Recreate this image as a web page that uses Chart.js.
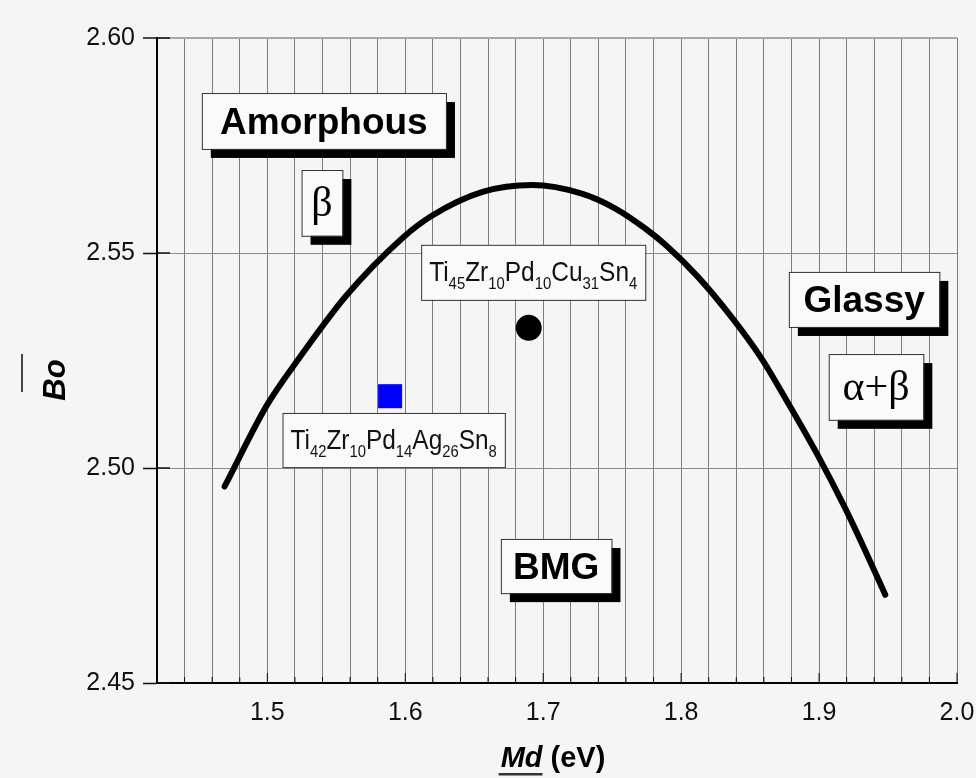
<!DOCTYPE html>
<html>
<head>
<meta charset="utf-8">
<script src="https://cdn.jsdelivr.net/npm/chart.js@4.4.0/dist/chart.umd.min.js"></script>
<style>
  html, body { margin: 0; padding: 0; background: #f5f5f5; }
  #c { display: block; }
</style>
</head>
<body>
<canvas id="c" width="976" height="778"></canvas>
<script>
// curve (Md in eV, mean bond order)
const curveMd = [1.469, 1.4995, 1.523, 1.557, 1.598, 1.619, 1.656, 1.692, 1.728, 1.752,
                 1.774, 1.789, 1.812, 1.836, 1.858, 1.875, 1.899, 1.919, 1.933, 1.948];
const curveBo = [2.4957, 2.5145, 2.5255, 2.5400, 2.5535, 2.5586, 2.5642, 2.5658, 2.5638, 2.5604,
                 2.5557, 2.5518, 2.5445, 2.5353, 2.5256, 2.5165, 2.5030, 2.4906, 2.4811, 2.4705];

// the two alloys
const alloyNames = ['Ti45Zr10Pd10Cu31Sn4', 'Ti42Zr10Pd14Ag26Sn8'];
const alloyMd = [1.6895, 1.589];
const alloyBo = [2.5326, 2.5167];

// axis ticks
const xTicks = [1.42, 1.44, 1.46, 1.48, 1.50, 1.52, 1.54, 1.56, 1.58, 1.60,
                1.62, 1.64, 1.66, 1.68, 1.70, 1.72, 1.74, 1.76, 1.78, 1.80,
                1.82, 1.84, 1.86, 1.88, 1.90, 1.92, 1.94, 1.96, 1.98, 2.00];
const yTicks = [2.45, 2.50, 2.55, 2.60];

// text boxes on the plot (corners in data units)
const notes = [
  { text: 'Amorphous', kind: 'bold', x0: 1.4525, x1: 1.6295, y0: 2.5872, y1: 2.5742, shadow: true },
  { text: 'β', kind: 'serif', x0: 1.5248, x1: 1.5544, y0: 2.5693, y1: 2.5540, shadow: true },
  { text: alloyNames[0], kind: 'chem', x0: 1.6115, x1: 1.7740, y0: 2.5519, y1: 2.5391, shadow: false },
  { text: alloyNames[1], kind: 'chem', x0: 1.5110, x1: 1.6722, y0: 2.5128, y1: 2.5002, shadow: false },
  { text: 'Glassy', kind: 'bold', x0: 1.8781, x1: 1.9872, y0: 2.5456, y1: 2.5328, shadow: true },
  { text: 'α+β', kind: 'serif', x0: 1.9070, x1: 1.9756, y0: 2.5265, y1: 2.5112, shadow: true },
  { text: 'BMG', kind: 'bold', x0: 1.6693, x1: 1.7495, y0: 2.4835, y1: 2.4709, shadow: true }
];

const SANS = "'Liberation Sans', Arial, sans-serif";
const SERIF = "'Liberation Serif', 'Times New Roman', serif";

function drawChem(ctx, formula, cx, cy, maxW) {
  const parts = [];
  formula.replace(/([A-Za-z]+)(\d*)/g, (m, el, num) => { parts.push([el, false]); if (num) parts.push([num, true]); });
  const big = '28px ' + SANS, small = '17px ' + SANS;
  let w = 0;
  parts.forEach(p => { ctx.font = p[1] ? small : big; w += ctx.measureText(p[0]).width; });
  const k = Math.min(1, maxW / w);
  ctx.save();
  ctx.translate(cx - w * k / 2, cy + 9);
  ctx.scale(k, 1);
  ctx.fillStyle = '#111';
  ctx.textBaseline = 'alphabetic';
  ctx.textAlign = 'left';
  let x = 0;
  parts.forEach(p => {
    ctx.font = p[1] ? small : big;
    ctx.fillText(p[0], x, p[1] ? 8 : 0);
    x += ctx.measureText(p[0]).width;
  });
  ctx.restore();
}

const decor = {
  id: 'decor',
  beforeDraw(chart) {
    const ctx = chart.ctx;
    ctx.save();
    ctx.fillStyle = '#f5f5f5';
    ctx.fillRect(0, 0, chart.width, chart.height);
    ctx.restore();
  },
  afterDatasetsDraw(chart) {
    const ctx = chart.ctx, xs = chart.scales.x, ys = chart.scales.y, a = chart.chartArea;
    ctx.save();
    // inner tick marks
    ctx.strokeStyle = '#111';
    ctx.lineWidth = 1.5;
    yTicks.forEach(v => {
      const y = ys.getPixelForValue(v);
      ctx.beginPath(); ctx.moveTo(a.left, y); ctx.lineTo(a.left + 13, y); ctx.stroke();
    });
    ctx.lineWidth = 1;
    xTicks.forEach((v, i) => {
      const x = xs.getPixelForValue(v);
      const len = (i % 5 === 4) ? 10 : 6;
      ctx.beginPath(); ctx.moveTo(x, a.bottom); ctx.lineTo(x, a.bottom - len); ctx.stroke();
    });

    // text boxes
    notes.forEach(n => {
      const l = xs.getPixelForValue(n.x0), r = xs.getPixelForValue(n.x1);
      const t = ys.getPixelForValue(n.y0), b = ys.getPixelForValue(n.y1);
      if (n.shadow) {
        ctx.fillStyle = '#000';
        ctx.fillRect(l + 9, t + 9, r - l, b - t);
      }
      ctx.fillStyle = '#fafafa';
      ctx.fillRect(l, t, r - l, b - t);
      ctx.strokeStyle = '#333';
      ctx.lineWidth = 1;
      ctx.strokeRect(l + 0.5, t + 0.5, r - l, b - t);
      const cx = (l + r) / 2, cy = (t + b) / 2;
      ctx.fillStyle = '#000';
      ctx.textAlign = 'center';
      if (n.kind === 'bold') {
        ctx.font = 'bold 37px ' + SANS;
        ctx.textBaseline = 'alphabetic';
        ctx.fillText(n.text, cx, cy + 13);
      } else if (n.kind === 'serif') {
        ctx.font = '42px ' + SERIF;
        ctx.textBaseline = 'middle';
        ctx.fillText(n.text, cx, cy + 2);
      } else {
        drawChem(ctx, n.text, cx, cy, r - l - 16);
      }
    });

    // axis titles
    ctx.fillStyle = '#000';
    ctx.textBaseline = 'alphabetic';
    ctx.textAlign = 'left';
    ctx.font = 'italic bold 29px ' + SANS;
    const wMd = ctx.measureText('Md').width;
    ctx.font = 'bold 29px ' + SANS;
    const wEv = ctx.measureText(' (eV)').width;
    const tx = 553 - (wMd + wEv) / 2, ty = 767;
    ctx.font = 'italic bold 29px ' + SANS;
    ctx.fillText('Md', tx, ty);
    ctx.font = 'bold 29px ' + SANS;
    ctx.fillText(' (eV)', tx + wMd, ty);
    ctx.fillStyle = '#333';
    ctx.fillRect(tx - 2, ty + 6, wMd + 2, 2.5);

    ctx.translate(65, 380);
    ctx.rotate(-Math.PI / 2);
    ctx.font = 'italic bold 31px ' + SANS;
    ctx.textAlign = 'center';
    ctx.fillStyle = '#000';
    ctx.fillText('Bo', 0, 0);
    ctx.fillStyle = '#444';
    ctx.fillRect(-12, -44, 38, 2);
    ctx.restore();
  }
};

new Chart(document.getElementById('c'), {
  type: 'scatter',
  data: {
    datasets: [
      {
        data: curveMd.map((x, i) => ({ x: x, y: curveBo[i] })),
        showLine: true,
        borderColor: '#000',
        borderWidth: 6,
        borderCapStyle: 'round',
        cubicInterpolationMode: 'monotone',
        pointRadius: 0,
        fill: false
      },
      {
        data: [{ x: alloyMd[0], y: alloyBo[0] }],
        pointStyle: 'circle',
        pointRadius: 13,
        backgroundColor: '#000',
        borderColor: '#000',
        borderWidth: 0
      },
      {
        data: [{ x: alloyMd[1], y: alloyBo[1] }],
        pointStyle: 'rect',
        pointRadius: 17,
        backgroundColor: '#0000ff',
        borderColor: '#0000ff',
        borderWidth: 0
      }
    ]
  },
  options: {
    responsive: false,
    animation: false,
    events: [],
    layout: { padding: { left: 0, top: 38, right: 19, bottom: 0 } },
    plugins: { legend: { display: false }, tooltip: { enabled: false } },
    scales: {
      x: {
        type: 'linear',
        min: 1.42,
        max: 2.0,
        afterBuildTicks: s => { s.ticks = xTicks.map(v => ({ value: v })); },
        afterFit: s => { s.height = 95; s.paddingLeft = 0; s.paddingRight = 0; },
        grid: { color: '#7c7c7c', lineWidth: 1, drawTicks: false },
        border: { display: true, color: '#000', width: 2 },
        ticks: {
          autoSkip: false,
          maxRotation: 0,
          padding: 15,
          color: '#111',
          font: { family: SANS, size: 25 },
          callback: v => Math.abs(v * 10 - Math.round(v * 10)) < 1e-6 ? v.toFixed(1) : ''
        }
      },
      y: {
        type: 'linear',
        min: 2.45,
        max: 2.60,
        afterBuildTicks: s => { s.ticks = yTicks.map(v => ({ value: v })); },
        afterFit: s => { s.width = 157; s.paddingTop = 0; s.paddingBottom = 0; },
        grid: {
          color: c => (c.tick && Math.abs(c.tick.value - 2.6) < 1e-6) ? '#a8a8a8' : '#8a8a8a',
          lineWidth: c => (c.tick && Math.abs(c.tick.value - 2.6) < 1e-6) ? 2 : 1,
          tickColor: '#111',
          tickLength: 14,
          tickWidth: 1.5
        },
        border: { display: true, color: '#000', width: 2 },
        ticks: {
          padding: 8,
          color: '#111',
          font: { family: SANS, size: 25 },
          callback: v => v.toFixed(2)
        }
      }
    }
  },
  plugins: [decor]
});
</script>
</body>
</html>
